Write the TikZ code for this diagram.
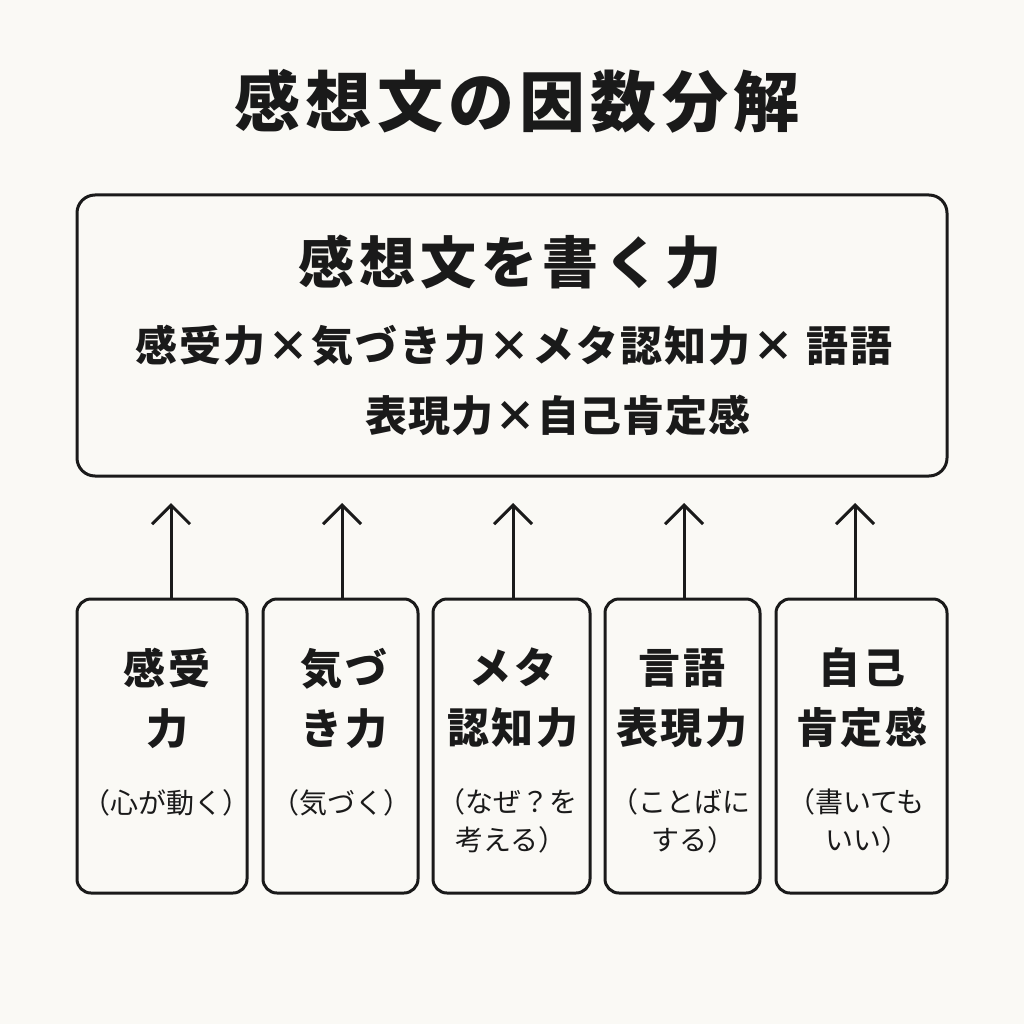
\documentclass[tikz,border=0pt]{standalone}
\usepackage{fontspec}
\setmainfont{Noto Sans CJK JP}
\usetikzlibrary{arrows.meta}
\definecolor{bg}{HTML}{FAF9F5}
\definecolor{ink}{HTML}{1A1A1A}
\tikzset{
  frame/.style={draw=ink, line width=3pt, rounded corners=18pt, fill=bg, inner sep=0pt},
  factor/.style={draw=ink, line width=3pt, rounded corners=14pt, fill=bg, inner sep=0pt, minimum height=294pt},
  titletext/.style={text=ink, inner sep=0pt, font=\fontsize{66}{70}\selectfont\bfseries\addfontfeatures{LetterSpace=8}},
  headtext/.style={text=ink, inner sep=0pt, font=\fontsize{56}{60}\selectfont\bfseries\addfontfeatures{LetterSpace=9}},
  formula/.style={text=ink, inner sep=0pt, font=\fontsize{42}{46}\selectfont\bfseries\addfontfeatures{LetterSpace=5}},
  formulab/.style={text=ink, inner sep=0pt, font=\fontsize{42}{46}\selectfont\bfseries\addfontfeatures{LetterSpace=2}},
  label/.style={text=ink, inner sep=0pt, align=center, font=\fontsize{42}{60}\selectfont\bfseries\addfontfeatures{LetterSpace=5}},
  note/.style={text=ink, inner sep=0pt, align=center, font=\fontsize{28}{38}\selectfont},
  up/.style={draw=ink, line width=3pt, -{Straight Barb[length=19pt,width=38pt,line width=3pt]}}
}
\begin{document}
\begin{tikzpicture}[x=1pt,y=-1pt]
\useasboundingbox[fill=bg] (0,0) rectangle (1024,1024);

\node[titletext] (title) at (517,101) {感想文の因数分解};

\node[frame, minimum width=870pt, minimum height=281pt] (main) at (512,335.5) {};
\node[headtext] (head) at (510,262) {感想文を書く力};
\node[formula] (f1) at (514,346) {感受力×気づき力×メタ認知力× 語語};
\node[formulab] (f2) at (558,415) {表現力×自己肯定感};

\node[factor, minimum width=170pt] (s1) at (162,746) {};
\node[factor, minimum width=155pt] (s2) at (340.5,746) {};
\node[factor, minimum width=157pt] (s3) at (511.5,746) {};
\node[factor, minimum width=155pt] (s4) at (682.5,746) {};
\node[factor, minimum width=171pt] (s5) at (861.5,746) {};

\node[label] (l1) at (167,698) {感受\\力};
\node[label] (l2) at (344,698) {気づ\\き力};
\node[label] (l3) at (513,698) {メタ\\認知力};
\node[label] (l4) at (682,698) {言語\\表現力};
\node[label] (l5) at (862,698) {自己\\肯定感};

\node[note] (n1) at (166,803) {（心が動く）};
\node[note] (n2) at (341,803) {（気づく）};
\node[note] (n3) at (507,821) {（なぜ？を\\\hspace*{8pt}考える）};
\node[note] (n4) at (680,821) {（ことばに\\\hspace*{26pt}する）};
\node[note] (n5) at (856,821) {（書いても\\\hspace*{22pt}いい）};

\coordinate (t1) at (171,503);
\coordinate (t2) at (342,503);
\coordinate (t3) at (513,503);
\coordinate (t4) at (684,503);
\coordinate (t5) at (855,503);
\draw[up] (t1 |- s1.north) -- (t1);
\draw[up] (t2 |- s2.north) -- (t2);
\draw[up] (t3 |- s3.north) -- (t3);
\draw[up] (t4 |- s4.north) -- (t4);
\draw[up] (t5 |- s5.north) -- (t5);
\end{tikzpicture}
\end{document}
